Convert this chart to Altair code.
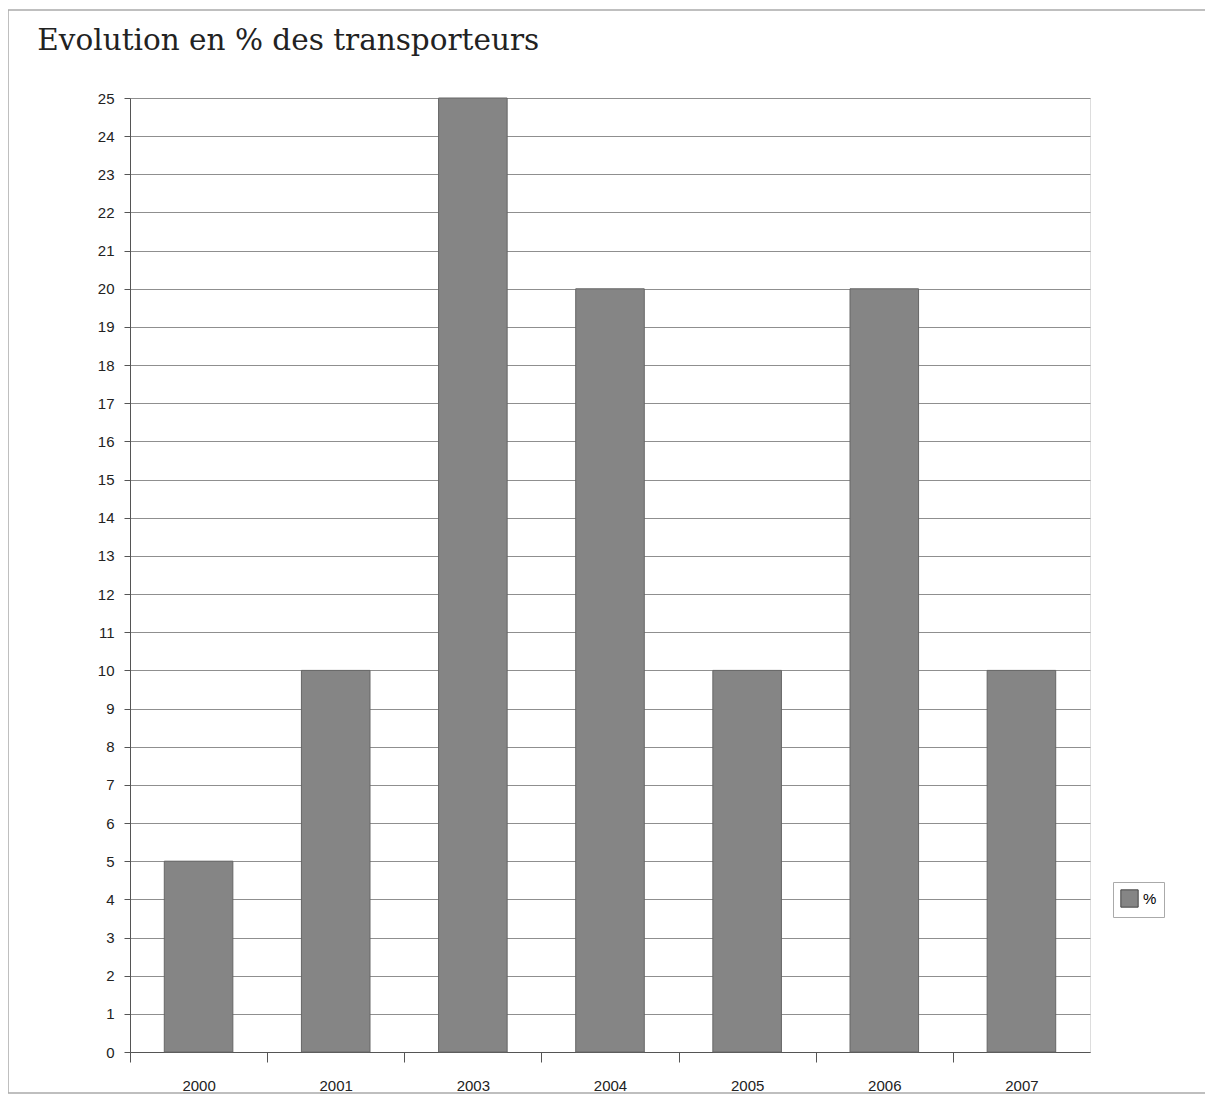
import altair as alt
import pandas as pd

years = ["2000", "2001", "2003", "2004", "2005", "2006", "2007"]
values = [5, 10, 25, 20, 10, 20, 10]
y_ticks = list(range(0, 26))
series_name = "%"
title_text = "Evolution en % des transporteurs"

df = pd.DataFrame({"year": years, "value": values, "series": [series_name] * len(years)})

W, H = 960, 954
step = W / 7.0

bars = alt.Chart(df).mark_bar(stroke="#666666", strokeWidth=1).encode(
    x=alt.X("year:N", sort=years, title=None,
            scale=alt.Scale(paddingInner=0.5, paddingOuter=0.25),
            axis=alt.Axis(labelAngle=0, labelFont="Liberation Sans", labelFontSize=15,
                          labelColor="#222222", tickColor="#555555", tickSize=10,
                          tickOffset=-step / 2, labelOffset=step / 2, labelPadding=16,
                          domainColor="#555555", grid=False)),
    y=alt.Y("value:Q", title=None,
            scale=alt.Scale(domain=[0, 25], nice=False),
            axis=alt.Axis(values=y_ticks, labelFont="Liberation Sans", labelFontSize=15,
                          labelColor="#222222", tickColor="#555555", tickSize=6,
                          domainColor="#555555", gridColor="#8f8f8f", gridWidth=1,
                          labelPadding=10)),
    color=alt.Color("series:N", title=None,
                    scale=alt.Scale(range=["#858585"]),
                    legend=alt.Legend(orient="none", legendX=983, legendY=784,
                                      symbolType="square", symbolSize=300,
                                      symbolStrokeColor="#444444", symbolStrokeWidth=1,
                                      labelFont="Liberation Sans", labelFontSize=15,
                                      strokeColor="#aaaaaa", padding=7,
                                      fillColor="white")),
)

border = alt.Chart(pd.DataFrame({"a": [0]})).mark_rect(
    fill=None, stroke="#aaaaaa", strokeWidth=1.5
).encode(x=alt.value(-122), x2=alt.value(1082), y=alt.value(-88), y2=alt.value(995))

chart = alt.layer(border, bars).properties(
    width=W, height=H,
    title=alt.TitleParams(title_text, anchor="start", dx=30, dy=30, offset=-40,
                          font="DejaVu Serif", fontSize=29.5, fontWeight="normal",
                          color="#222222", baseline="alphabetic"),
    autosize=alt.AutoSizeParams(type="none"),
    padding={"left": 122, "top": 90, "right": 115, "bottom": 60},
).configure_view(stroke=None).configure(background="white")

chart.save("out.html", embed_options={"renderer": "svg", "actions": False})
